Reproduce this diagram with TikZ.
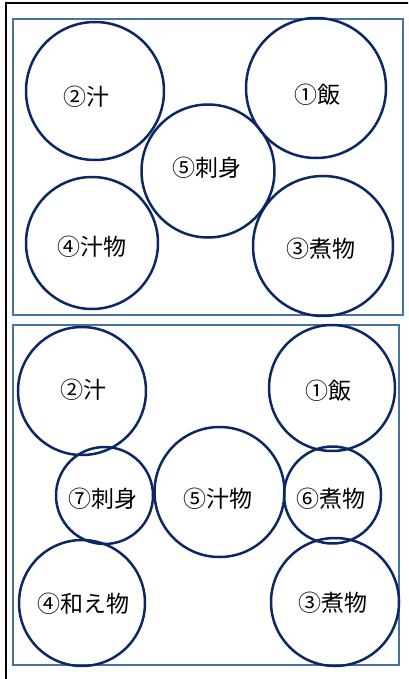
\documentclass[tikz,border=0pt]{standalone}
\usepackage{fontspec}
\newfontfamily\jp{Noto Sans CJK JP}
\definecolor{navy}{RGB}{12,40,100}
\definecolor{frameblue}{RGB}{72,114,160}
\tikzset{
  dish/.style={circle, draw=navy, line width=2.5pt, inner sep=0pt, minimum size=#1},
  lbl/.style={font=\jp\fontsize{23}{24}\selectfont, inner sep=0pt, text=black},
  panel/.style={draw=frameblue, line width=2.8pt}
}
\begin{document}
\begin{tikzpicture}[x=1pt,y=-1pt]
\useasboundingbox (0,0) rectangle (408,679);
\begin{scope}
\clip (0,0) rectangle (408,679);
\draw[black, line width=2pt] (6,3) rectangle (430,700);
\end{scope}
\draw[panel] (13,19) rectangle (403,315);
\draw[panel] (13,325) rectangle (399,665);
% top panel
\node[dish=138pt] (t2) at (95,91) {};
\node[dish=140pt] (t1) at (316,88) {};
\node[dish=133pt] (t5) at (208,171) {};
\node[dish=132pt] (t4) at (92,243) {};
\node[dish=140pt] (t3) at (323,246) {};
\node[lbl] (t2l) at (86,97) {②汁};
\node[lbl] (t1l) at (317,95) {①飯};
\node[lbl] (t5l) at (207,168) {⑤刺身};
\node[lbl] (t4l) at (92,247) {④汁物};
\node[lbl] (t3l) at (321,249) {③煮物};
% bottom panel
\node[dish=128pt] (b2) at (82,391) {};
\node[dish=126pt] (b1) at (332,388) {};
\node[dish=97pt] (b7) at (104.5,495.5) {};
\node[dish=130pt] (b5) at (219.5,492) {};
\node[dish=97pt] (b6) at (332.5,495) {};
\node[dish=126pt] (b4) at (82,603) {};
\node[dish=128pt] (b3) at (335,602) {};
\node[lbl] (b2l) at (83,390) {②汁};
\node[lbl] (b1l) at (328,391) {①飯};
\node[lbl] (b7l) at (103,499) {⑦刺身};
\node[lbl] (b5l) at (218,499) {⑤汁物};
\node[lbl] (b6l) at (331,499) {⑥煮物};
\node[lbl] (b4l) at (83,604) {④和え物};
\node[lbl] (b3l) at (333,603) {③煮物};
\end{tikzpicture}
\end{document}
